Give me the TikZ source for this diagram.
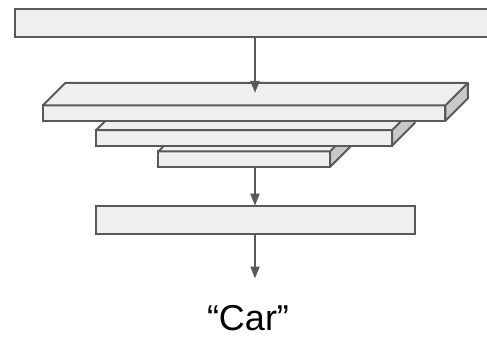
\documentclass[tikz,border=0pt]{standalone}
\usepackage{fontspec}
\setmainfont{Liberation Sans}
\usetikzlibrary{arrows.meta}
\definecolor{edge}{HTML}{595959}
\definecolor{face}{HTML}{EFEFEF}
\definecolor{side}{HTML}{C8C8C8}
\tikzset{
  layerbox/.style={draw=edge, fill=face, line width=2pt, rectangle,
    inner sep=0pt, outer sep=0pt, minimum width=#1},
  slabfront/.style={layerbox=#1, minimum height=15.5pt},
  flowarrow/.style={draw=edge, line width=2pt,
    -{Triangle[length=12pt,width=9pt]}},
}
% Slab: front face node plus top and side faces, depth 22.5
\newcommand{\slabfaces}[1]{%
  \fill[face] (#1.north west) -- ++(22.5,-22.5) -- ([shift={(22.5,-22.5)}]#1.north east) -- (#1.north east) -- cycle;
  \fill[side] (#1.north east) -- ++(22.5,-22.5) -- ([shift={(22.5,-22.5)}]#1.south east) -- (#1.south east) -- cycle;
  \draw[edge, line width=2pt, line join=round]
    (#1.north west) -- ++(22.5,-22.5) -- ([shift={(22.5,-22.5)}]#1.north east)
    -- ([shift={(22.5,-22.5)}]#1.south east) -- (#1.south east)
    (#1.north east) -- ([shift={(22.5,-22.5)}]#1.north east)
    (#1.north west) -- (#1.north east) -- (#1.south east);
}
\begin{document}
\begin{tikzpicture}[x=1pt, y=-1pt]
  \useasboundingbox (0,0) rectangle (487,341);
  \clip (0,0) rectangle (487,341);

  % input layer
  \node[layerbox=480pt, minimum height=28pt] (input) at (255,23) {};

  % stacked slabs, drawn back to front
  \node[slabfront=171.7pt] (s3) at (244.2,159.2) {};
  \slabfaces{s3}
  \node[slabfront=296pt] (s2) at (244.2,137.8) {};
  \slabfaces{s2}
  \node[slabfront=402.5pt] (s1) at (244.2,113.1) {};
  \slabfaces{s1}

  % output layer
  \node[layerbox=319.3pt, minimum height=28.6pt] (out) at (255.3,220) {};

  % label
  \node[font=\fontsize{36}{42}\selectfont, anchor=base] (label) at (248,330) {“Car”};
  \coordinate (labeltop) at (255,278.5);

  % connectors
  \draw[flowarrow] (input.south -| 255,0) -- ([yshift=12.5pt]s1.north -| 255,0);
  \draw[flowarrow] (s3.south -| 255,0) -- (out.north -| 255,0);
  \draw[flowarrow] (out.south -| 255,0) -- (labeltop);
\end{tikzpicture}
\end{document}
